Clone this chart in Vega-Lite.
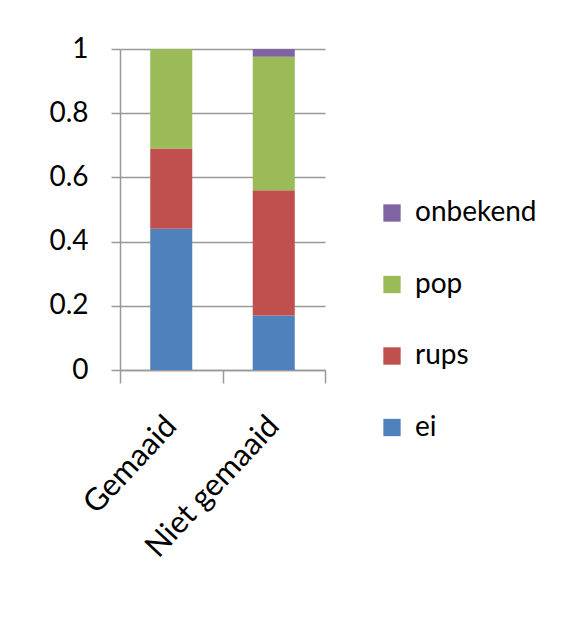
{
  "$schema": "https://vega.github.io/schema/vega-lite/v6.json",
  "width": 205,
  "height": 321,
  "autosize": {"type": "none"},
  "padding": {"left": 120, "top": 49, "right": 243, "bottom": 260},
  "background": "white",
  "data": {
    "values": [
      {"groep": "Gemaaid", "stadium": "ei", "volgorde": 1, "aandeel": 0.44},
      {"groep": "Gemaaid", "stadium": "rups", "volgorde": 2, "aandeel": 0.25},
      {"groep": "Gemaaid", "stadium": "pop", "volgorde": 3, "aandeel": 0.31},
      {"groep": "Gemaaid", "stadium": "onbekend", "volgorde": 4, "aandeel": 0.0},
      {"groep": "Niet gemaaid", "stadium": "ei", "volgorde": 1, "aandeel": 0.17},
      {"groep": "Niet gemaaid", "stadium": "rups", "volgorde": 2, "aandeel": 0.39},
      {"groep": "Niet gemaaid", "stadium": "pop", "volgorde": 3, "aandeel": 0.416},
      {"groep": "Niet gemaaid", "stadium": "onbekend", "volgorde": 4, "aandeel": 0.024}
    ]
  },
  "mark": {"type": "bar", "width": {"band": 0.41}},
  "encoding": {
    "x": {
      "field": "groep",
      "type": "nominal",
      "sort": ["Gemaaid", "Niet gemaaid"],
      "scale": {"paddingInner": 0, "paddingOuter": 0},
      "axis": {
        "title": null,
        "labelAngle": -47,
        "labelAlign": "right",
        "labelBaseline": "middle",
        "labelPadding": 38,
        "labelFontSize": 31,
        "labelFont": "Lato",
        "labelColor": "#000000",
        "tickBand": "extent",
        "tickSize": 13,
        "tickColor": "#999999",
        "tickWidth": 1.5,
        "domainColor": "#999999",
        "domainWidth": 1.5
      }
    },
    "y": {
      "field": "aandeel",
      "type": "quantitative",
      "stack": "zero",
      "scale": {"domain": [0, 1], "nice": false},
      "axis": {
        "title": null,
        "values": [0, 0.2, 0.4, 0.6, 0.8, 1],
        "format": "~g",
        "labelFontSize": 28,
        "labelFont": "Lato",
        "labelColor": "#000000",
        "labelPadding": 23,
        "tickSize": 9,
        "tickColor": "#999999",
        "tickWidth": 1.5,
        "gridColor": "#999999",
        "gridWidth": 1.5,
        "domainColor": "#999999",
        "domainWidth": 1.5
      }
    },
    "order": {"field": "volgorde", "type": "quantitative", "sort": "ascending"},
    "color": {
      "field": "stadium",
      "type": "nominal",
      "sort": ["onbekend", "pop", "rups", "ei"],
      "scale": {
        "domain": ["onbekend", "pop", "rups", "ei"],
        "range": ["#8064A2", "#9BBB59", "#C0504D", "#4F81BD"]
      },
      "legend": {
        "title": null,
        "orient": "none",
        "legendX": 258,
        "legendY": 150,
        "symbolType": "square",
        "symbolSize": 300,
        "symbolStrokeWidth": 0,
        "symbolOpacity": 1,
        "labelFontSize": 28,
        "labelFont": "Lato",
        "labelColor": "#000000",
        "labelOffset": 9,
        "rowPadding": 43.5
      }
    }
  },
  "config": {
    "view": {"stroke": null}
  }
}
